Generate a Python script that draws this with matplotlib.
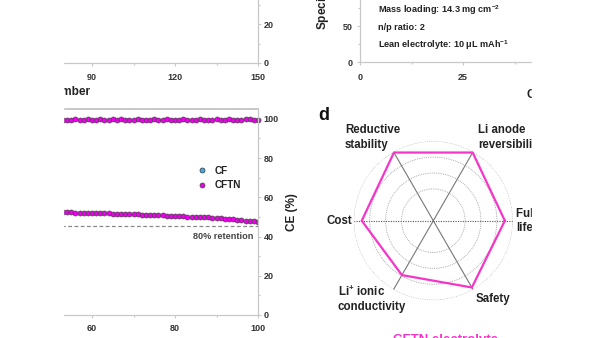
import numpy as np
import matplotlib
matplotlib.use("Agg")
import matplotlib.pyplot as plt
from matplotlib.patches import Rectangle

plt.rcParams['font.family'] = ['Liberation Sans', 'DejaVu Sans']
plt.rcParams['font.weight'] = 'bold'
plt.rcParams['axes.labelweight'] = 'bold'
plt.rcParams['mathtext.fontset'] = 'custom'
plt.rcParams['mathtext.rm'] = 'Liberation Sans:bold'
plt.rcParams['mathtext.bf'] = 'Liberation Sans:bold'
plt.rcParams['mathtext.it'] = 'Liberation Sans:bold:italic'

# data
cycles = list(range(50, 101))
cftn_ce = [99.5, 99.7, 99.3, 99.6, 99.2, 99.4, 99.8, 99.6, 99.5, 99.9, 99.3,
           99.6, 99.7, 99.4, 99.5, 99.8, 99.6, 100.1, 99.4, 99.5, 99.6, 99.7,
           99.5, 99.6, 99.4, 99.7, 99.5, 99.6, 99.8, 99.5, 99.6, 99.4, 99.7,
           99.5, 99.6, 99.5, 99.7, 99.6, 99.5, 99.4, 99.7, 99.6, 99.5, 99.8,
           99.6, 99.5, 99.4, 99.7, 99.9, 99.6, 99.3]
cftn_cap = [52.6, 52.6, 52.5, 52.4, 52.4, 52.3, 52.2, 52.2, 52.1, 52.1, 52.0,
            51.9, 51.9, 51.8, 51.8, 51.7, 51.6, 51.6, 51.5, 51.4, 51.3, 51.3,
            51.2, 51.1, 51.0, 50.9, 50.9, 50.8, 50.7, 50.6, 50.5, 50.4, 50.3,
            50.2, 50.1, 50.0, 49.9, 49.8, 49.7, 49.5, 49.4, 49.2, 49.1, 48.9,
            48.7, 48.5, 48.3, 48.1, 47.9, 47.7, 47.5]
cf_cycles, cf_ce = [], []
retention_80 = 45.4

radar_labels = ['Full cell\nlife', 'Li anode\nreversibility', 'Reductive\nstability',
                'Cost', 'Li$^{+}$ ionic\nconductivity', 'Safety']
radar_values = [4.5, 4.95, 4.95, 4.5, 3.95, 4.85]

notes = ['Mass loading: 14.3 mg cm$^{-2}$', 'n/p ratio: 2',
         'Lean electrolyte: 10 μL mAh$^{-1}$']

W, H = 600, 338
fig = plt.figure(figsize=(6, 3.38), dpi=100)


def box(l, t, r, b):
    return [l / W, 1 - b / H, (r - l) / W, (b - t) / H]


def px(x, y):
    return x / W, 1 - y / H


grey = '#c8c8c8'
tcol = '#333333'
pink = '#f535c8'


def style(ax, sides):
    for s in ['left', 'right', 'top', 'bottom']:
        ax.spines[s].set_visible(s in sides)
        ax.spines[s].set_color(grey)
        ax.spines[s].set_linewidth(0.9)
    ax.tick_params(which='both', colors=grey, labelcolor=tcol, labelsize=6.5,
                   direction='out', length=2.2, width=0.8, pad=2)
    ax.tick_params(which='minor', length=1.5)


# top left panel
ax_a = fig.add_axes(box(-157, -132, 258, 63))
style(ax_a, ['right', 'bottom'])
ax_a.set_xlim(0, 150)
ax_a.set_ylim(0, 100)
ax_a.set_xticks([0, 30, 60, 90, 120, 150])
ax_a.set_xticks([15, 45, 75, 105, 135], minor=True)
ax_a.yaxis.tick_right()
ax_a.set_yticks([0, 20, 40, 60, 80, 100])
ax_a.set_yticks([10, 30, 50, 70, 90], minor=True)
ax_a.tick_params(axis='x', pad=5)
ax_a.set_xlabel('Cycle number', fontsize=8.5, color='#222222', labelpad=3)

# bottom left panel
ax_b = fig.add_axes(box(-157, 109, 258, 315))
style(ax_b, ['right', 'bottom', 'top'])
ax_b.spines['top'].set_linewidth(1.4)
ax_b.set_xlim(0, 100)
ax_b.set_ylim(0, 105)
ax_b.set_xticks([0, 20, 40, 60, 80, 100])
ax_b.set_xticks([10, 30, 50, 70, 90], minor=True)
ax_b.yaxis.tick_right()
ax_b.yaxis.set_label_position('right')
ax_b.set_yticks([0, 20, 40, 60, 80, 100])
ax_b.set_yticks([10, 30, 50, 70, 90], minor=True)
ax_b.tick_params(axis='x', pad=4)
ax_b.set_ylabel('CE (%)', fontsize=8.5, color='#222222', labelpad=5)

ax_b.axhline(retention_80, color='#888888', lw=0.9, ls=(0, (3, 2)))
ax_b.text(98.8, retention_80 - 3, '80% retention', fontsize=6.6, color='#444444',
          ha='right', va='top')
ax_b.plot(cf_cycles, cf_ce, 'o', ms=3.6, mfc='#4aa8e0', mec='#333333', mew=0.5,
          label='CF')
ax_b.plot(cycles, cftn_ce, 'o', ms=3.6, mfc='#ee00ee', mec='#444444', mew=0.5,
          label='CFTN', clip_on=False)
ax_b.plot(cycles, cftn_cap, 'o', ms=3.6, mfc='#ee00ee', mec='#444444', mew=0.5)
leg = ax_b.legend(loc='center left', bbox_to_anchor=px(197, 178),
                  bbox_transform=fig.transFigure, frameon=False, fontsize=7.2,
                  borderpad=0, borderaxespad=0, handlelength=1,
                  handletextpad=0.8, labelspacing=0.45)
for t in leg.get_texts():
    t.set_color('#222222')

# top right panel
ax_c = fig.add_axes(box(360, -82, 772, 62))
style(ax_c, ['left', 'bottom'])
ax_c.set_xlim(0, 100)
ax_c.set_ylim(0, 200)
ax_c.set_xticks([0, 25, 50, 75, 100])
ax_c.set_xticks([12.5, 37.5, 62.5, 87.5], minor=True)
ax_c.set_yticks([0, 50, 100, 150, 200])
ax_c.set_yticks([25, 75, 125, 175], minor=True)
ax_c.tick_params(axis='x', pad=6)
ax_c.tick_params(axis='y', pad=3)
ax_c.set_xlabel('Cycle number', fontsize=8.5, color='#222222', labelpad=5)
fig.text(*px(323, 30), 'Specific capacity (mAh g$^{-1}$)', rotation=90,
         ha='center', va='bottom', fontsize=8.5, color='#222222')
for i, s in enumerate(notes):
    fig.text(*px(378, 10 + 17.5 * i), s, ha='left', va='center', fontsize=6.6,
             color='#222222')

# radar panel
fig.text(*px(318, 120), 'd', fontsize=13, ha='left', va='baseline',
         color='#111111')
cx, cy, rr = 433.3, 220.7, 79.5
ax_d = fig.add_axes(box(cx - rr, cy - rr, cx + rr, cy + rr), projection='polar')
ax_d.set_ylim(0, 5)
ax_d.spines['polar'].set_visible(False)
angles = np.deg2rad(np.arange(0, 360, 60))
ax_d.set_thetagrids(np.rad2deg(angles), labels=[''] * 6)
ax_d.set_rgrids([2, 3, 4, 5], labels=[''] * 4)
for line in ax_d.yaxis.get_gridlines():
    line.set_color('#999999')
    line.set_linestyle((0, (1, 1.2)))
    line.set_linewidth(0.6)
for i, line in enumerate(ax_d.xaxis.get_gridlines()):
    line.set_color('#777777')
    line.set_linewidth(0.8)
    if i in (0, 3):
        line.set_linestyle((0, (1, 1.2)))
        line.set_color('#555555')
    else:
        line.set_linestyle('-')
ax_d.plot(np.append(angles, angles[0]), radar_values + radar_values[:1],
          color=pink, lw=1.6, clip_on=False)

lab_pos = [(516, 221, 'left'), (478, 137.5, 'left'), (345, 137.5, 'left'),
           (352, 221, 'right'), (338, 299, 'left'), (476, 299, 'left')]
for (x, y, ha), s in zip(lab_pos, radar_labels):
    fig.text(*px(x, y), s, ha=ha, va='center', fontsize=8.3, color='#222222',
             linespacing=1.25)
fig.text(*px(446, 343), 'CFTN electrolyte', ha='center', va='baseline',
         fontsize=9.5, color=pink)

# white masks at the cropped edges
fig.add_artist(Rectangle((0, 0), 63 / W, 1, transform=fig.transFigure,
                         color='white', zorder=100))
fig.add_artist(Rectangle((532 / W, 0), 1, 1, transform=fig.transFigure,
                         color='white', zorder=100))

fig.savefig('out.png', dpi=100)
